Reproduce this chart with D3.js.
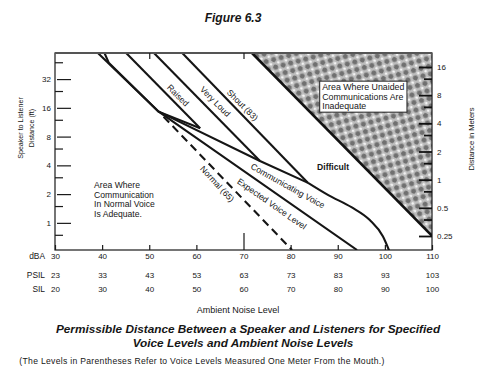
<!DOCTYPE html>
<html>
<head>
<meta charset="utf-8">
<script src="https://cdn.jsdelivr.net/npm/d3@7"></script>
<style>
  body { margin: 0; background: #fff; }
  text { font-family: "Liberation Sans", Arial, sans-serif; fill: #161616; }
</style>
</head>
<body>
<div id="chart"></div>
<script>
// bottom scale rows
const dba  = [30, 40, 50, 60, 70, 80, 90, 100, 110];
const psil = [23, 33, 43, 53, 63, 73, 83, 93, 103];
const sil  = [20, 30, 40, 50, 60, 70, 80, 90, 100];

const feetTicks  = [1, 2, 4, 8, 16, 32];
const feetMinor  = [0.75, 1.5, 3, 6, 12, 24, 48];
const meterTicks = [0.25, 0.5, 1, 2, 4, 8, 16];
const meterMinor = [0.375, 0.75, 1.5, 3, 6, 12];

// curves as [dBA, feet]
const normalSolid   = [[39.1, 60], [52.0, 14.6]];
const normalDashed  = [[52.6, 13.6], [80.3, 0.52]];
const raisedLine    = [[45.1, 60], [60.8, 9.8]];
const veryLoudLine  = [[51.0, 60], [73.5, 4.45]];
const shoutLine     = [[57.0, 60], [83.7, 2.62]];
const expectedLine  = [[40.5, 60], [41.4, 47.5], [52.0, 14.6], [94.1, 0.52]];
const raisedLink    = [[52.0, 14.6], [60.8, 9.8]];
const communicating = [[52.0, 14.6], [73.5, 4.45], [83.7, 2.62]];
const commTail      = [[83.7, 2.62], [88.0, 1.95], [93.0, 1.45], [96.8, 1.07], [99.6, 0.72], [101.0, 0.5]];
const inadequate    = [[71.8, 60], [110, 60], [110, 0.73]];

const adequateText   = ["Area Where", "Communication", "In Normal Voice", "Is Adequate."];
const inadequateText = ["Area Where Unaided", "Communications Are", "Inadequate"];

const W = 490, H = 379;
const svg = d3.select("#chart").append("svg").attr("width", W).attr("height", H);

let x = d3.scaleLinear().domain([30, 110]).range([55, 432]);
let yFt = d3.scaleLog().domain([0.52, 60]).range([250, 53]);
let yM = d3.scaleLog().domain([0.25, 16]).range([236, 67]);

let line = d3.line().x(d => x(d[0])).y(d => yFt(d[1]));
let smooth = d3.line().x(d => x(d[0])).y(d => yFt(d[1])).curve(d3.curveMonotoneX);

let defs = svg.append("defs");
defs.append("clipPath").attr("id", "plot")
  .append("rect").attr("x", 55).attr("y", 53).attr("width", 377).attr("height", 197);

// halftone screen for the inadequate area
let pat = defs.append("pattern").attr("id", "dots")
  .attr("patternUnits", "userSpaceOnUse").attr("width", 11).attr("height", 11)
  .attr("patternTransform", "rotate(30)");
pat.append("rect").attr("width", 11).attr("height", 11).attr("fill", "#bdbdbd");
pat.append("circle").attr("cx", 2.75).attr("cy", 2.75).attr("r", 2.5).attr("fill", "#707070");
pat.append("circle").attr("cx", 8.25).attr("cy", 8.25).attr("r", 2.5).attr("fill", "#707070");
pat.append("circle").attr("cx", 8.25).attr("cy", 2.75).attr("r", 1.3).attr("fill", "#f6f6f6");
pat.append("circle").attr("cx", 2.75).attr("cy", 8.25).attr("r", 1.3).attr("fill", "#f6f6f6");

let plot = svg.append("g").attr("clip-path", "url(#plot)");

plot.append("path").attr("d", line(inadequate) + "Z").attr("fill", "url(#dots)");
plot.append("path").attr("d", line([inadequate[0], inadequate[2]]))
  .attr("stroke", "#111").attr("stroke-width", 2.6).attr("fill", "none");

let solid = [normalSolid, raisedLine, veryLoudLine, shoutLine, expectedLine, raisedLink, communicating];
plot.selectAll(".voice").data(solid).enter().append("path")
  .attr("class", "voice")
  .attr("d", line)
  .attr("fill", "none").attr("stroke", "#151515").attr("stroke-width", 2.1)
  .attr("stroke-linejoin", "round");

plot.append("path").attr("d", smooth(commTail))
  .attr("fill", "none").attr("stroke", "#151515").attr("stroke-width", 2.1);

plot.append("path").attr("d", line(normalDashed))
  .attr("fill", "none").attr("stroke", "#151515").attr("stroke-width", 2.1)
  .attr("stroke-dasharray", "8,5").attr("stroke-dashoffset", -3);

// labels along the lines
function along(txt, a, f, rot) {
  svg.append("text")
    .attr("transform", `translate(${x(a)},${yFt(f)}) rotate(${rot})`)
    .attr("text-anchor", "middle").attr("dy", "0.35em")
    .style("font-size", "8.6px")
    .text(txt);
}
along("Raised", 56.1, 21.6, 45);
along("Very Loud", 64.0, 18.6, 45);
along("Shout (83)", 69.8, 17.1, 45);
along("Normal (65)", 64.4, 2.56, 47);
along("Expected Voice Level", 76.0, 1.58, 35);
along("Communicating Voice", 79.4, 2.44, 29);

svg.append("text").attr("x", x(89.0)).attr("y", yFt(3.85))
  .attr("text-anchor", "middle").attr("dy", "0.35em")
  .style("font-size", "8.6px").style("font-weight", "bold").text("Difficult");

let adq = svg.append("text").style("font-size", "8.6px");
adq.selectAll("tspan").data(adequateText).enter().append("tspan")
  .attr("x", x(38.3)).attr("y", (d, i) => yFt(2.3) + i * 9.5).text(d => d);

let box = svg.append("g");
let boxText = box.append("text").style("font-size", "8.8px");
boxText.selectAll("tspan").data(inadequateText).enter().append("tspan")
  .attr("x", x(86.7)).attr("y", (d, i) => yFt(24.5) + i * 9.5).text(d => d);
let bb = boxText.node().getBBox();
box.insert("rect", "text")
  .attr("x", bb.x - 2.5).attr("y", bb.y - 1).attr("width", bb.width + 5).attr("height", bb.height + 2)
  .attr("fill", "#fff").attr("stroke", "#222").attr("stroke-width", 1);

// frame
svg.append("rect").attr("x", 55).attr("y", 53).attr("width", 377).attr("height", 197)
  .attr("fill", "none").attr("stroke", "#1a1a1a").attr("stroke-width", 1.2);
svg.append("line").attr("x1", 55).attr("x2", 432).attr("y1", 53).attr("y2", 53)
  .attr("stroke", "#555").attr("stroke-width", 2);

// left axis, feet
let left = svg.append("g").attr("transform", "translate(55,0)")
  .call(d3.axisLeft(yFt).tickValues(feetTicks).tickSize(-16).tickPadding(4).tickFormat(d => d));
left.selectAll("line").attr("stroke", "#1a1a1a").attr("stroke-width", 1.2).attr("x1", 2);
svg.append("g").attr("transform", "translate(55,0)")
  .call(d3.axisLeft(yFt).tickValues(feetMinor).tickSize(-8).tickFormat(""))
  .selectAll("line").attr("stroke", "#1a1a1a").attr("stroke-width", 1.2);

// right axis, meters
let right = svg.append("g").attr("transform", "translate(432,0)")
  .call(d3.axisRight(yM).tickValues(meterTicks).tickSize(-13).tickPadding(5).tickFormat(d => d));
right.selectAll("line").attr("stroke", "#111").attr("stroke-width", 1.8);
svg.append("g").attr("transform", "translate(432,0)")
  .call(d3.axisRight(yM).tickValues(meterMinor).tickSize(-8).tickFormat(""))
  .selectAll("line").attr("stroke", "#111").attr("stroke-width", 1.8);

// bottom scales
let bottom = svg.append("g").attr("transform", "translate(0,250)")
  .call(d3.axisBottom(x).tickValues(dba).tickSize(-5).tickPadding(3));
bottom.selectAll("line").attr("stroke", "#1a1a1a").attr("stroke-width", 1.2)
  .filter(d => d === 70).attr("y2", -17);
svg.append("g").attr("transform", "translate(0,53)")
  .call(d3.axisTop(x).tickValues([50, 70]).tickSize(-6).tickFormat(""))
  .selectAll("line").attr("stroke", "#1a1a1a").attr("stroke-width", 1.2);
svg.append("g").attr("transform", "translate(0,269)")
  .call(d3.axisBottom(x).tickValues(dba).tickSize(0).tickPadding(3).tickFormat((d, i) => psil[i]));
svg.append("g").attr("transform", "translate(0,283)")
  .call(d3.axisBottom(x).tickValues(dba).tickSize(0).tickPadding(3).tickFormat((d, i) => sil[i]));

svg.selectAll(".domain").remove();
svg.selectAll(".tick text").style("font-family", "'Liberation Sans', Arial, sans-serif")
  .style("font-size", "8px").attr("fill", "#161616");

let rows = [["dBA", 259], ["PSIL", 278], ["SIL", 292]];
svg.selectAll(".rowlab").data(rows).enter().append("text")
  .attr("class", "rowlab").attr("x", 45).attr("y", d => d[1])
  .attr("text-anchor", "end").style("font-size", "8.4px").text(d => d[0]);

// axis titles
let ylab = svg.append("text").attr("transform", "translate(0,128) rotate(-90)")
  .attr("text-anchor", "middle").style("font-size", "7.1px");
ylab.append("tspan").attr("x", 0).attr("y", 23).text("Speaker to Listener");
ylab.append("tspan").attr("x", 0).attr("y", 33.5).text("Distance (ft)");

svg.append("text").attr("transform", "translate(474,139) rotate(-90)")
  .attr("text-anchor", "middle").style("font-size", "7.6px").text("Distance in Meters");

svg.append("text").attr("x", 238).attr("y", 313).attr("text-anchor", "middle")
  .style("font-size", "9px").text("Ambient Noise Level");

svg.append("text").attr("x", 233).attr("y", 22).attr("text-anchor", "middle")
  .style("font-size", "12px").style("font-weight", "bold").style("font-style", "italic")
  .text("Figure 6.3");

let title = svg.append("text").attr("text-anchor", "middle")
  .style("font-size", "11.8px").style("font-weight", "bold").style("font-style", "italic");
title.append("tspan").attr("x", 248).attr("y", 333)
  .text("Permissible Distance Between a Speaker and Listeners for Specified");
title.append("tspan").attr("x", 243).attr("y", 346.5)
  .text("Voice Levels and Ambient Noise Levels");

svg.append("text").attr("x", 202).attr("y", 364).attr("text-anchor", "middle")
  .style("font-size", "8.6px").style("letter-spacing", "0.3px")
  .text("(The Levels in Parentheses Refer to Voice Levels Measured One Meter From the Mouth.)");
</script>
</body>
</html>
